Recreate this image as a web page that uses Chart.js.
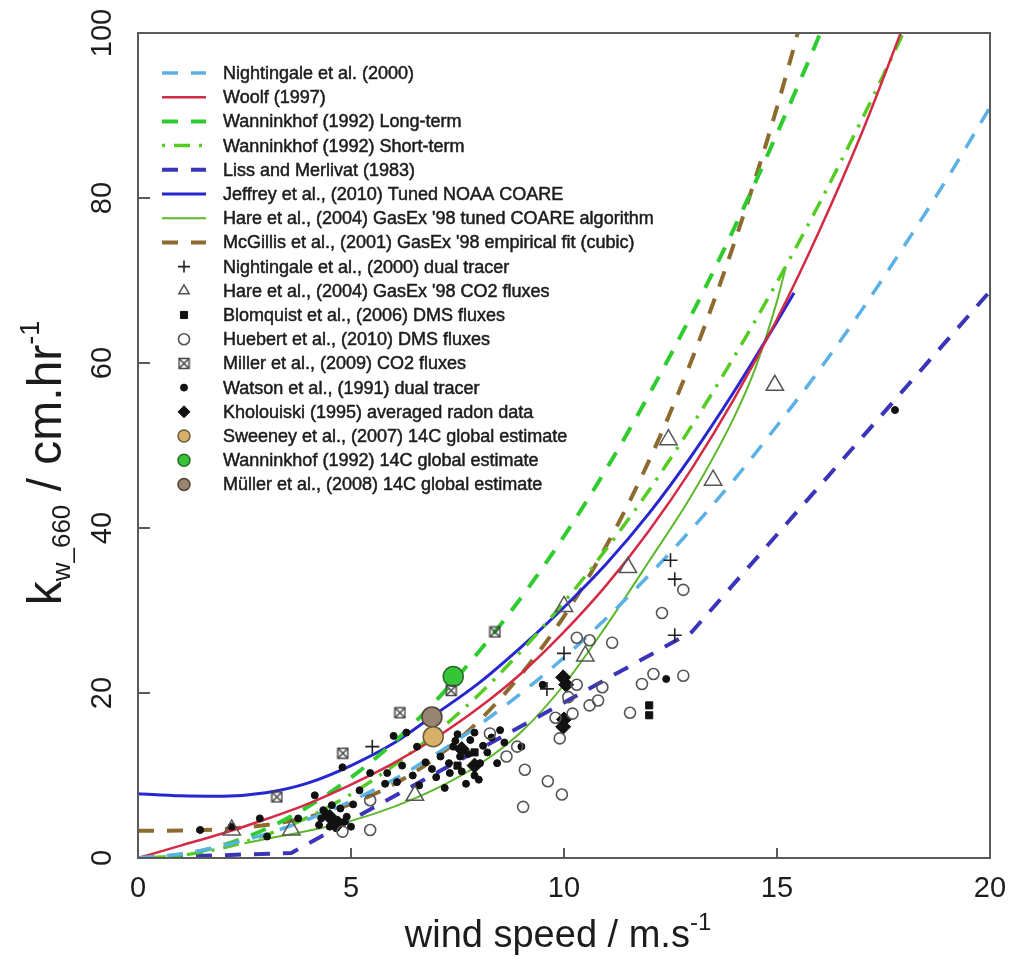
<!DOCTYPE html>
<html>
<head>
<meta charset="utf-8">
<script src="https://cdn.jsdelivr.net/npm/chart.js@4.4.0/dist/chart.umd.min.js"></script>
<style>
  html, body { margin: 0; padding: 0; background: #fff; }
</style>
</head>
<body>
<canvas id="kw" width="1012" height="960"></canvas>
<script>
const windTicks = [0, 5, 10, 15, 20];
const kTicks = [0, 20, 40, 60, 80, 100];

// parameterisations: k660 (cm/hr) against wind speed (m/s)
const nightingaleU = [0,1,2,3,4,5,6,7,8,9,10,11,12,13,14,15,16,17,18,19,20];
const nightingaleK = [0,0.5,1.5,2.9,4.7,6.9,9.5,12.6,16.1,20.0,24.3,29.1,34.3,39.9,45.9,52.4,59.2,66.5,74.3,82.4,91.0];
const woolfU = [0,1,2,3,4,5,6,7,8,9,10,11,12,13,14,15,16,17,18];
const woolfK = [0,1.5,3.0,4.7,6.6,8.9,11.5,14.6,18.2,22.4,27.4,33.1,39.7,47.2,55.7,65.3,76.1,88.0,101.3];
const wannLongU = [0,1,2,3,4,5,6,7,8,9,10,11,12,13,14,15,16,17];
const wannLongK = [0,0.39,1.56,3.51,6.24,9.75,14.0,19.1,25.0,31.6,39.0,47.2,56.2,65.9,76.4,87.8,99.8,112.7];
const wannShortU = [0,1,2,3,4,5,6,7,8,9,10,11,12,13,14,15,16,17,18,19];
const wannShortK = [0,0.31,1.24,2.79,4.96,7.75,11.2,15.2,19.8,25.1,31.0,37.5,44.6,52.4,60.8,69.8,79.4,89.6,100.4,111.9];
const lissU = [0, 3.6, 13, 20];
const lissK = [0, 0.61, 27.4, 68.7];
const jeffreyU = [0,1,2,3,4,5,6,7,8,9,10,11,12,13,14,15,15.4];
const jeffreyK = [7.8,7.55,7.5,7.9,9.1,11.2,13.9,17.5,21.2,25.6,30.4,35.7,41.8,48.8,56.6,65.0,68.5];
const hareU = [2.5,3,4,5,6,7,8,9,10,11,12,13,14,14.5,15,15.2];
const hareK = [1.8,2.3,3.3,4.5,6.2,8.4,11.3,15.3,21.0,28.2,36.0,44.0,53.5,59.5,67.5,71.5];
const mcgillisU = [0,1,2,3,4,5,6,7,8,9,10,11,12,13,14,15,16];
const mcgillisK = [3.3,3.33,3.51,4.0,4.96,6.55,8.92,12.2,16.6,22.3,29.3,37.9,48.2,60.4,74.6,91.0,109.8];

// field measurements [wind speed, k660]
const nightingaleDual = [[5.5,13.5],[10.0,24.8],[12.5,36.1],[12.6,33.8],[12.6,27.0],[9.6,20.5]];
const hareCO2 = [[2.2,3.4],[3.6,3.4],[6.5,7.6],[10.0,30.5],[10.5,24.5],[11.5,35.2],[12.45,50.7],[13.5,45.8],[14.95,57.3]];
const blomquistDMS = [[12.0,18.5],[12.0,17.3],[7.9,12.8],[7.5,11.2]];
const huebertDMS = [[12.8,32.5],[12.3,29.7],[11.13,26.1],[12.1,22.3],[11.83,21.1],[12.8,22.1],[11.55,17.6],
  [10.8,19.1],[10.9,20.7],[10.3,26.7],[10.6,26.4],[9.9,14.5],[9.08,10.7],[9.62,9.3],[9.95,7.7],[9.04,6.2],
  [8.26,15.1],[8.9,13.5],[8.65,12.3],[5.45,3.4],[4.8,3.2],[5.45,7.0],[10.2,17.5],[10.1,19.5],[9.8,17.0],
  [10.3,21.0],[10.6,18.5]];
const millerCO2 = [[4.81,12.7],[6.15,17.6],[8.38,27.4],[3.26,7.4],[7.35,20.3]];
const watsonDual = [[6.3,15.2],[6.55,13.5],[5.45,10.3],[4.8,11.0],[4.15,7.6],[2.86,4.8],[2.2,3.8],[1.46,3.4],
  [3.03,2.6],[3.76,4.8],[4.4,5.5],[4.6,4.5],[4.75,6.0],[4.9,5.0],[5.05,6.5],[4.5,3.8],[4.3,4.8],[5.2,8.2],
  [5.8,9.0],[6.08,9.2],[6.6,8.8],[7.32,10.3],[7.56,12.3],[7.8,14.3],[8.03,11.5],[8.43,11.5],[7.4,13.5],
  [7.1,12.3],[5.85,10.3],[7.7,9.0],[7.9,10.0],[8.2,12.8],[7.5,15.0],[8.6,14.0],[12.4,21.7],[17.77,54.3],
  [9.0,13.5],[6.9,10.8],[7.2,8.5],[8.5,15.5],[9.5,21.0],[6.0,14.8],
  [7.0,9.8],[7.3,11.5],[7.6,10.5],[7.75,12.6],[8.1,13.6],[8.3,14.6],[7.45,14.2],[7.9,15.2],[8.0,9.5],
  [6.75,11.6],[6.45,10.0],[6.2,11.2],[4.35,5.8],[4.55,6.4],[4.65,3.6],[4.85,4.4],[5.0,3.8],[4.25,4.0]];
const kholouiskiRadon = [[9.98,21.9],[9.98,15.9],[10.05,21.0],[10.0,16.8],[4.5,5.0],[4.7,4.2],[7.6,13.2],[7.9,11.2]];
const sweeney14C = [[6.93,14.7]];
const wanninkhof14C = [[7.4,22.0]];
const muller14C = [[6.9,17.1]];

const toXY = (u, k) => u.map((v, i) => ({ x: v, y: k[i] }));
const pairs = arr => arr.map(p => ({ x: p[0], y: p[1] }));

// square with a cross through it, for the Miller et al. points
const boxCross = document.createElement('canvas');
boxCross.width = 13; boxCross.height = 13;
(function () {
  const c = boxCross.getContext('2d');
  c.strokeStyle = '#444'; c.lineWidth = 1.5;
  c.strokeRect(1.5, 1.5, 10, 10);
  c.beginPath();
  c.moveTo(1.5, 1.5); c.lineTo(11.5, 11.5);
  c.moveTo(11.5, 1.5); c.lineTo(1.5, 11.5);
  c.stroke();
})();

const DASH = [16, 13];

function curve(label, u, k, color, width, dash, smooth) {
  return {
    label, data: toXY(u, k), showLine: true, borderColor: color, backgroundColor: color,
    borderWidth: width, borderDash: dash, pointRadius: 0, pointHoverRadius: 0,
    cubicInterpolationMode: smooth ? 'monotone' : 'default', tension: 0, order: 2
  };
}
function marks(label, pts, style, radius, fill, stroke, bw) {
  return {
    label, data: pairs(pts), showLine: false, pointStyle: style, pointRadius: radius,
    pointHoverRadius: radius, backgroundColor: fill, borderColor: stroke, borderWidth: bw, order: 1
  };
}

const datasets = [
  curve('Nightingale et al. (2000)', nightingaleU, nightingaleK, '#5bb1e3', 3.5, DASH, true),
  curve('Woolf (1997)', woolfU, woolfK, '#d42a45', 2.5, [], true),
  curve('Wanninkhof (1992) Long-term', wannLongU, wannLongK, '#2fcc2f', 4, DASH, true),
  curve('Wanninkhof (1992) Short-term', wannShortU, wannShortK, '#55cc22', 3.5, [3, 9, 16, 9], true),
  curve('Liss and Merlivat (1983)', lissU, lissK, '#3a35b8', 4, DASH, false),
  curve('Jeffrey et al., (2010) Tuned NOAA COARE', jeffreyU, jeffreyK, '#2727d0', 3, [], true),
  curve("Hare et al., (2004) GasEx '98 tuned COARE algorithm", hareU, hareK, '#5cb82a', 2, [], true),
  curve("McGillis et al., (2001) GasEx '98 empirical fit (cubic)", mcgillisU, mcgillisK, '#8d6b2e', 4, DASH, true),
  marks('Nightingale et al., (2000) dual tracer', nightingaleDual, 'cross', 7, '#222', '#222', 1.6),
  marks("Hare et al., (2004) GasEx '98 CO2 fluxes", hareCO2, 'triangle', 10, 'rgba(0,0,0,0)', '#555', 1.5),
  marks('Blomquist et al., (2006) DMS fluxes', blomquistDMS, 'rect', 5, '#111', '#111', 1),
  marks('Huebert et al., (2010) DMS fluxes', huebertDMS, 'circle', 5.5, 'rgba(0,0,0,0)', '#555', 1.6),
  marks('Miller et al., (2009) CO2 fluxes', millerCO2, boxCross, 6, '#444', '#444', 1),
  marks('Watson et al., (1991) dual tracer', watsonDual, 'circle', 3.5, '#111', '#111', 1),
  marks('Kholouiski (1995) averaged radon data', kholouiskiRadon, 'rectRot', 7.5, '#111', '#111', 1),
  marks('Sweeney et al., (2007) 14C global estimate', sweeney14C, 'circle', 10, '#d8b06a', '#6b5a3a', 1.5),
  marks('Wanninkhof (1992) 14C global estimate', wanninkhof14C, 'circle', 10, '#36c536', '#2a6a2a', 1.5),
  marks('Müller et al., (2008) 14C global estimate', muller14C, 'circle', 10, '#978471', '#4f4436', 1.5)
];

const FONT = '"Liberation Sans", Arial, Helvetica, sans-serif';
const INK = '#1c1c1c';

function drawRich(ctx, parts, x, y, align) {
  // parts: [text, size, baseline shift]
  let w = 0;
  parts.forEach(p => { ctx.font = p[1] + 'px ' + FONT; w += ctx.measureText(p[0]).width; });
  let cx = align === 'center' ? x - w / 2 : x;
  ctx.textAlign = 'left';
  ctx.textBaseline = 'alphabetic';
  parts.forEach(p => {
    ctx.font = p[1] + 'px ' + FONT;
    ctx.fillText(p[0], cx, y + p[2]);
    cx += ctx.measureText(p[0]).width;
  });
}

const decor = {
  id: 'decor',
  afterDraw(chart) {
    const { ctx, chartArea: a, scales: { x, y } } = chart;
    ctx.save();

    // plot frame
    ctx.strokeStyle = '#5a5a5a';
    ctx.lineWidth = 2;
    ctx.setLineDash([]);
    ctx.strokeRect(a.left, a.top, a.right - a.left, a.bottom - a.top);

    // inward tick marks
    ctx.beginPath();
    windTicks.forEach(t => {
      const px = x.getPixelForValue(t);
      ctx.moveTo(px, a.bottom); ctx.lineTo(px, a.bottom - 10);
    });
    kTicks.forEach(t => {
      const py = y.getPixelForValue(t);
      ctx.moveTo(a.left, py); ctx.lineTo(a.left + 12, py);
    });
    ctx.stroke();

    // y tick labels, turned like the axis title
    ctx.fillStyle = INK;
    ctx.font = '29px ' + FONT;
    ctx.textAlign = 'center';
    ctx.textBaseline = 'alphabetic';
    kTicks.forEach(t => {
      ctx.save();
      ctx.translate(111, y.getPixelForValue(t));
      ctx.rotate(-Math.PI / 2);
      ctx.fillText(String(t), 0, 0);
      ctx.restore();
    });

    // axis titles
    drawRich(ctx, [['wind speed / m.s', 38, 0], ['-1', 24, -17]], 558, 947, 'center');
    ctx.save();
    ctx.translate(61, 463);
    ctx.rotate(-Math.PI / 2);
    drawRich(ctx, [['k', 48, 0], ['w_660', 26, 9], [' / cm.hr', 48, 0], ['-1', 27, -22]], 0, 0, 'center');
    ctx.restore();

    // legend
    const helpers = Chart.helpers;
    chart.data.datasets.forEach((ds, i) => {
      const ly = 73 + i * 24.2;
      if (ds.showLine) {
        ctx.setLineDash(ds.borderDash || []);
        ctx.strokeStyle = ds.borderColor;
        ctx.lineWidth = ds.borderWidth;
        ctx.beginPath();
        ctx.moveTo(162, ly); ctx.lineTo(206, ly);
        ctx.stroke();
        ctx.setLineDash([]);
      } else {
        ctx.fillStyle = ds.backgroundColor;
        ctx.strokeStyle = ds.borderColor;
        ctx.lineWidth = ds.borderWidth;
        const r = Math.min(ds.pointRadius, 6);
        if (helpers && helpers.drawPoint) {
          helpers.drawPoint(ctx, { pointStyle: ds.pointStyle, rotation: 0, radius: r, borderWidth: ds.borderWidth }, 184, ly);
        }
      }
      ctx.fillStyle = INK;
      ctx.strokeStyle = INK;
      ctx.lineWidth = 0.5;
      ctx.font = '18px ' + FONT;
      ctx.textAlign = 'left';
      ctx.textBaseline = 'middle';
      ctx.fillText(ds.label, 223, ly + 1);
      ctx.strokeText(ds.label, 223, ly + 1);
    });

    ctx.restore();
  }
};

new Chart(document.getElementById('kw'), {
  type: 'scatter',
  data: { datasets },
  options: {
    responsive: false,
    animation: false,
    events: [],
    layout: { padding: { left: 138, top: 33, right: 22, bottom: 0 } },
    plugins: { legend: { display: false }, tooltip: { enabled: false } },
    scales: {
      x: {
        type: 'linear', min: 0, max: 20,
        afterBuildTicks: s => { s.ticks = windTicks.map(v => ({ value: v })); },
        afterFit: s => { s.height = 102; s.paddingLeft = 0; s.paddingRight = 0; },
        grid: { display: false, drawTicks: false },
        border: { display: false },
        ticks: { padding: 14, color: INK, font: { family: FONT, size: 29 }, maxRotation: 0 }
      },
      y: {
        type: 'linear', min: 0, max: 100, display: false,
        afterBuildTicks: s => { s.ticks = kTicks.map(v => ({ value: v })); }
      }
    }
  },
  plugins: [decor]
});
</script>
</body>
</html>
